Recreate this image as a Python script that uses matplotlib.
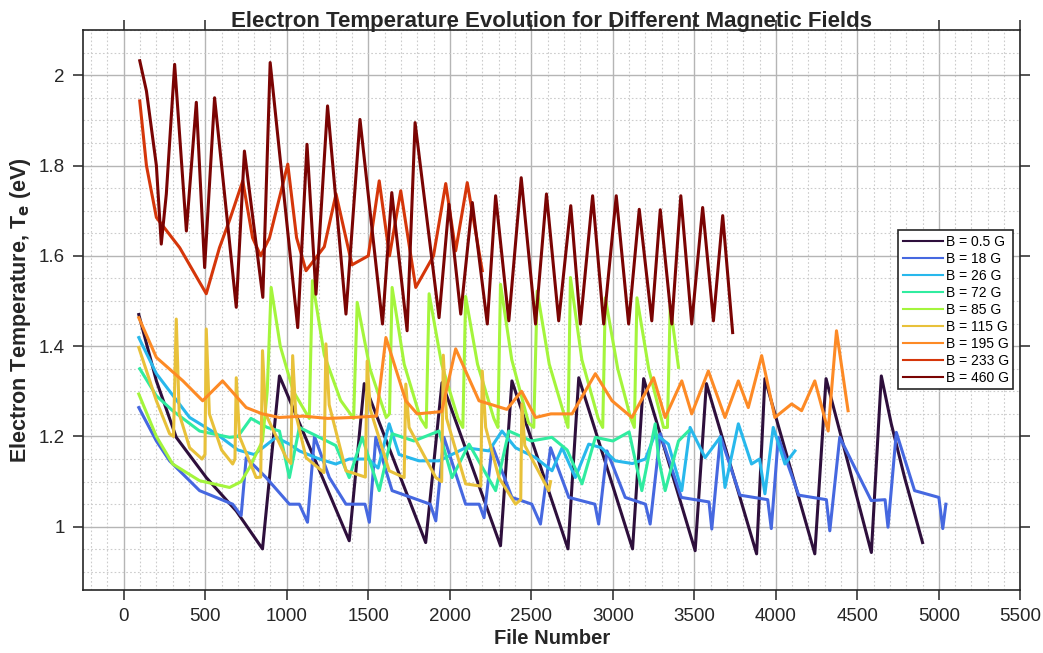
"""
Evolucion de la temperatura electronica (Te) para distintos campos magneticos.
Valores leidos de la figura original (vertices principales de cada serie).
"""
import matplotlib
matplotlib.use("Agg")
import matplotlib.pyplot as plt
from matplotlib.ticker import MultipleLocator

plt.rcParams["font.family"] = ["Liberation Sans", "DejaVu Sans"]

# ── Datos ────────────────────────────────────────────────────────────────────
x_b05 = [92, 200, 322, 506, 690, 851, 955, 1383, 1475, 1852, 1952, 2311, 2381,
         2725, 2791, 3121, 3189, 3505, 3574, 3882, 3933, 4239, 4308, 4586,
         4647, 4708, 4790, 4900]
y_b05 = [1.47, 1.323, 1.198, 1.109, 1.035, 0.951, 1.334, 0.969, 1.317, 0.965,
         1.319, 0.958, 1.323, 0.951, 1.33, 0.951, 1.328, 0.947, 1.317, 0.94,
         1.328, 0.94, 1.328, 0.943, 1.334, 1.228, 1.109, 0.965]

x_b18 = [92, 200, 281, 465, 668, 720, 751, 873, 1016, 1077, 1127, 1170, 1261,
         1363, 1480, 1506, 1546, 1646, 1880, 1914, 1964, 2097, 2180, 2210, 2260,
         2381, 2503, 2556, 2618, 2730, 2890, 2913, 2964, 3076, 3200, 3229, 3291,
         3420, 3590, 3607, 3660, 3780, 3950, 3972, 4015, 4140, 4310, 4331, 4392,
         4585, 4670, 4688, 4739, 4851, 5000, 5024, 5043]
y_b18 = [1.264, 1.19, 1.146, 1.08, 1.05, 1.025, 1.153, 1.109, 1.05, 1.05, 1.01,
         1.20, 1.109, 1.05, 1.05, 1.01, 1.198, 1.08, 1.05, 1.013, 1.198, 1.05,
         1.05, 1.02, 1.18, 1.065, 1.05, 1.006, 1.175, 1.065, 1.05, 1.006, 1.168,
         1.065, 1.05, 1.006, 1.206, 1.065, 1.055, 0.995, 1.20, 1.07, 1.06, 0.996,
         1.198, 1.07, 1.06, 0.991, 1.198, 1.058, 1.06, 0.999, 1.209, 1.08, 1.065,
         0.996, 1.05]

x_b26 = [92, 200, 404, 567, 700, 800, 934, 1016, 1077, 1200, 1300, 1383, 1500,
         1560, 1628, 1689, 1811, 1934, 2097, 2240, 2320, 2403, 2526, 2627, 2689,
         2770, 2852, 2930, 3015, 3120, 3200, 3260, 3341, 3423, 3474, 3566, 3658,
         3688, 3770, 3851, 3900, 3933, 3984, 4056, 4117]
y_b26 = [1.419, 1.339, 1.242, 1.206, 1.17, 1.16, 1.198, 1.183, 1.168, 1.15,
         1.139, 1.15, 1.15, 1.13, 1.228, 1.16, 1.146, 1.146, 1.175, 1.168, 1.212,
         1.175, 1.153, 1.124, 1.175, 1.109, 1.183, 1.175, 1.146, 1.14, 1.15,
         1.206, 1.183, 1.08, 1.22, 1.153, 1.198, 1.087, 1.228, 1.139, 1.15,
         1.073, 1.22, 1.139, 1.168]

x_b72 = [98, 200, 300, 465, 649, 700, 780, 880, 955, 1016, 1077, 1200, 1300,
         1383, 1463, 1567, 1646, 1780, 1934, 2014, 2118, 2281, 2362, 2500, 2626,
         2720, 2811, 2893, 3000, 3100, 3178, 3260, 3280, 3321, 3403, 3464]
y_b72 = [1.35, 1.29, 1.257, 1.212, 1.198, 1.20, 1.24, 1.22, 1.212, 1.109,
         1.22, 1.198, 1.18, 1.109, 1.198, 1.08, 1.206, 1.19, 1.212, 1.109, 1.183,
         1.08, 1.212, 1.19, 1.198, 1.17, 1.095, 1.198, 1.19, 1.21, 1.08, 1.228,
         1.153, 1.08, 1.19, 1.212]

x_b85 = [92, 200, 300, 465, 649, 720, 771, 851, 880, 904, 960, 1040, 1138,
         1157, 1230, 1330, 1410, 1432, 1510, 1610, 1630, 1646, 1720, 1820, 1855,
         1873, 1950, 2050, 2080, 2097, 2170, 2270, 2295, 2311, 2380, 2483, 2515,
         2536, 2610, 2700, 2725, 2740, 2810, 2910, 2938, 2954, 3030, 3110, 3132,
         3148, 3220, 3311, 3335, 3352, 3403]
y_b85 = [1.294, 1.20, 1.139, 1.102, 1.087, 1.10, 1.131, 1.19, 1.30, 1.53, 1.40,
         1.30, 1.24, 1.545, 1.38, 1.28, 1.24, 1.497, 1.35, 1.242, 1.25, 1.53,
         1.36, 1.24, 1.22, 1.516, 1.36, 1.24, 1.22, 1.51, 1.36, 1.24, 1.22, 1.537,
         1.37, 1.23, 1.22, 1.522, 1.36, 1.25, 1.22, 1.552, 1.37, 1.24, 1.22,
         1.507, 1.35, 1.24, 1.22, 1.507, 1.35, 1.22, 1.22, 1.49, 1.353]

x_b115 = [92, 200, 281, 305, 322, 340, 404, 480, 498, 506, 525, 600, 668, 682,
          690, 710, 812, 840, 851, 870, 996, 1025, 1036, 1055, 1118, 1228, 1240,
          1260, 1363, 1482, 1493, 1512, 1628, 1720, 1730, 1750, 1914, 1950, 1960,
          1980, 2097, 2190, 2199, 2220, 2301, 2403, 2435, 2442, 2460, 2607, 2618]
y_b115 = [1.397, 1.279, 1.206, 1.20, 1.46, 1.25, 1.175, 1.15, 1.16, 1.438,
          1.25, 1.17, 1.139, 1.15, 1.33, 1.20, 1.109, 1.11, 1.39, 1.25, 1.153,
          1.14, 1.379, 1.25, 1.153, 1.12, 1.405, 1.27, 1.124, 1.11, 1.367, 1.26,
          1.124, 1.109, 1.316, 1.22, 1.109, 1.10, 1.38, 1.24, 1.095, 1.09, 1.345,
          1.22, 1.109, 1.05, 1.06, 1.272, 1.18, 1.08, 1.10]

x_b195 = [92, 200, 363, 484, 606, 751, 850, 955, 1100, 1250, 1400, 1550, 1608,
          1730, 1800, 1950, 2036, 2179, 2260, 2350, 2440, 2526, 2620, 2750, 2893,
          2995, 3117, 3250, 3321, 3423, 3484, 3586, 3688, 3770, 3831, 3913, 3994,
          4097, 4158, 4239, 4321, 4372, 4443]
y_b195 = [1.463, 1.375, 1.323, 1.279, 1.323, 1.264, 1.25, 1.242, 1.245, 1.24,
          1.242, 1.245, 1.419, 1.279, 1.25, 1.255, 1.394, 1.279, 1.27, 1.26, 1.30,
          1.242, 1.25, 1.25, 1.339, 1.279, 1.242, 1.33, 1.242, 1.323, 1.25, 1.345,
          1.242, 1.323, 1.264, 1.379, 1.242, 1.272, 1.257, 1.323, 1.212, 1.434,
          1.257]

x_b233 = [98, 139, 200, 343, 506, 587, 650, 730, 790, 840, 894, 1006, 1060,
          1118, 1230, 1302, 1400, 1500, 1567, 1630, 1699, 1791, 1900, 1975, 2036,
          2107, 2199]
y_b233 = [1.943, 1.80, 1.685, 1.618, 1.516, 1.618, 1.68, 1.766, 1.64, 1.60,
          1.64, 1.803, 1.64, 1.567, 1.62, 1.737, 1.58, 1.60, 1.766, 1.60, 1.744,
          1.53, 1.60, 1.76, 1.611, 1.762, 1.567]

x_b460 = [98, 139, 200, 230, 261, 312, 384, 445, 496, 557, 690, 740, 853, 898,
          1067, 1124, 1179, 1250, 1363, 1449, 1587, 1644, 1738, 1787, 1934, 1995,
          2067, 2138, 2230, 2281, 2362, 2438, 2526, 2593, 2668, 2742, 2801, 2876,
          2944, 3021, 3097, 3162, 3239, 3291, 3362, 3417, 3484, 3551, 3617, 3674,
          3735]
y_b460 = [2.032, 1.965, 1.80, 1.626, 1.737, 2.024, 1.655, 1.94, 1.574, 1.95,
          1.486, 1.832, 1.508, 2.028, 1.441, 1.847, 1.515, 1.932, 1.471, 1.902,
          1.449, 1.74, 1.434, 1.895, 1.463, 1.714, 1.471, 1.718, 1.449, 1.733,
          1.456, 1.773, 1.449, 1.737, 1.456, 1.711, 1.449, 1.733, 1.449, 1.733,
          1.449, 1.703, 1.456, 1.702, 1.449, 1.733, 1.449, 1.707, 1.456, 1.689,
          1.43]

series = [
    (x_b05, y_b05), (x_b18, y_b18), (x_b26, y_b26), (x_b72, y_b72),
    (x_b85, y_b85), (x_b115, y_b115), (x_b195, y_b195), (x_b233, y_b233),
    (x_b460, y_b460),
]
etiquetas = ["B = 0.5 G", "B = 18 G", "B = 26 G", "B = 72 G", "B = 85 G",
             "B = 115 G", "B = 195 G", "B = 233 G", "B = 460 G"]
colores = ["#2e0f3c", "#4668e0", "#28b8ec", "#30eca0", "#a4f53c",
           "#e8c13a", "#fd8a25", "#d5360a", "#7a0403"]

# ── Figura ───────────────────────────────────────────────────────────────────
fig = plt.figure(figsize=(10.43, 6.53), dpi=100)
ax = fig.add_axes([0.0796, 0.0965, 0.8987, 0.8575])

for (xs, ys), lab, col in zip(series, etiquetas, colores):
    ax.plot(xs, ys, color=col, lw=2.2, label=lab)

ax.set_xlim(-250, 5500)
ax.set_ylim(0.86, 2.1)
ax.xaxis.set_major_locator(MultipleLocator(500))
ax.xaxis.set_minor_locator(MultipleLocator(100))
ax.yaxis.set_major_locator(MultipleLocator(0.2))
ax.yaxis.set_minor_locator(MultipleLocator(0.05))
ax.set_yticks([1, 1.2, 1.4, 1.6, 1.8, 2])
ax.set_yticklabels(["1", "1.2", "1.4", "1.6", "1.8", "2"])

ax.grid(which="major", color="#b5b5b5", lw=1.0, ls="-")
ax.grid(which="minor", color="#cccccc", lw=0.8, ls=(0, (1.5, 2)))
ax.set_axisbelow(True)

ax.tick_params(which="major", direction="out", length=7, width=1.1, pad=6,
               top=True, right=True, labelsize=13.5, colors="#262626")
ax.tick_params(which="minor", length=0)
for sp in ax.spines.values():
    sp.set_color("#262626")
    sp.set_linewidth(1.2)

ax.set_title("Electron Temperature Evolution for Different Magnetic Fields",
             fontsize=16, fontweight="bold", pad=2, color="#262626")
ax.set_xlabel("File Number", fontsize=14.5, fontweight="bold", labelpad=3,
              color="#262626")
ax.set_ylabel("Electron Temperature, T$_\\mathbf{e}$ (eV)", fontsize=15.5,
              fontweight="bold", labelpad=4, color="#262626")

leg = ax.legend(loc="upper right", bbox_to_anchor=(0.992, 0.642), fontsize=10,
                frameon=True, fancybox=False, framealpha=1, edgecolor="#262626",
                labelspacing=0.22, handlelength=2.9, handletextpad=0.2,
                borderpad=0.3, borderaxespad=0)
leg.get_frame().set_linewidth(1.2)
for ln in leg.get_lines():
    ln.set_linewidth(1.5)

fig.savefig("out.png", dpi=100)
plt.close(fig)
